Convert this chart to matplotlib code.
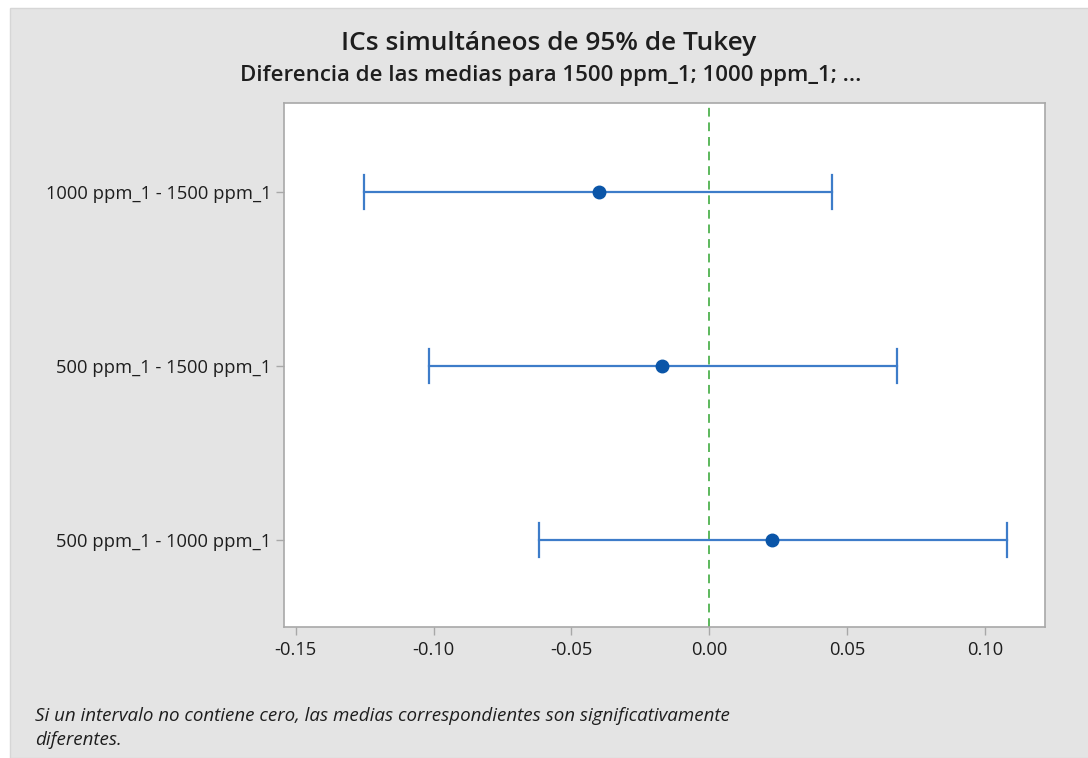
import matplotlib.pyplot as plt
from matplotlib.patches import Rectangle

# Tukey simultaneous 95% CIs for pairwise differences of means
comparisons = ["1000 ppm_1 - 1500 ppm_1", "500 ppm_1 - 1500 ppm_1", "500 ppm_1 - 1000 ppm_1"]
diff_mean = [-0.0400, -0.0171, 0.0229]
ci_lower = [-0.1251, -0.1018, -0.0618]
ci_upper = [0.0447, 0.0680, 0.1080]
xticks = [-0.15, -0.10, -0.05, 0.00, 0.05, 0.10]

plt.rcParams['font.family'] = ['Open Sans', 'DejaVu Sans']
txt = '#1e1e1e'
spine = '#a8a8a8'

fig = plt.figure(figsize=(10.88, 7.58), dpi=100, facecolor='white')
fig.patches.append(Rectangle((10 / 1088, 0), 1, 1 - 8 / 758, transform=fig.transFigure,
                             facecolor='#e4e4e4', edgecolor='#d6d6d6', lw=1, zorder=-10))

ax = fig.add_axes([284 / 1088, 1 - 627 / 758, (1045 - 284) / 1088, (627 - 103) / 758])
ax.set_facecolor('white')
ax.set_zorder(2)

y = list(range(1, len(comparisons) + 1))
for yi, m, lo, hi in zip(y, diff_mean, ci_lower, ci_upper):
    ax.plot([lo, hi], [yi, yi], color='#3d7cc9', lw=1.6, zorder=2)
    ax.plot([lo, lo], [yi - 0.1, yi + 0.1], color='#3d7cc9', lw=1.6, zorder=2)
    ax.plot([hi, hi], [yi - 0.1, yi + 0.1], color='#3d7cc9', lw=1.6, zorder=2)
    ax.plot(m, yi, 'o', color='#0a55a8', ms=9, zorder=3)

ax.axvline(0, color='#5cb85c', ls=(0, (4.5, 3)), lw=1.4, zorder=1)

ax.set_xlim(-0.15425, 0.1218)
ax.set_ylim(3.5, 0.4885)
ax.set_yticks(y)
ax.set_yticklabels(comparisons)
ax.set_xticks(xticks)
ax.set_xticklabels([f"{v:.2f}" for v in xticks])
ax.tick_params(axis='both', colors=spine, labelcolor=txt, labelsize=13.2, length=6, width=1)
ax.tick_params(axis='x', pad=4)
ax.tick_params(axis='y', pad=3)
for s in ax.spines.values():
    s.set_color(spine)
    s.set_linewidth(1.2)

fig.text(549 / 1088, 1 - 43 / 758, "ICs simultáneos de 95% de Tukey", ha='center', va='center',
         fontsize=18.9, color=txt, fontweight='semibold')
fig.text(551 / 1088, 1 - 76 / 758, "Diferencia de las medias para 1500 ppm_1; 1000 ppm_1; ...",
         ha='center', va='center', fontsize=16, color=txt, fontweight='semibold')

fig.text(35 / 1088, 1 - 716 / 758,
         "Si un intervalo no contiene cero, las medias correspondientes son significativamente",
         ha='left', va='center', fontsize=13.5, style='italic', color=txt)
fig.text(35 / 1088, 1 - 740 / 758, "diferentes.", ha='left', va='center', fontsize=13.5,
         style='italic', color=txt)

fig.savefig('out.png', dpi=100, facecolor=fig.get_facecolor())
